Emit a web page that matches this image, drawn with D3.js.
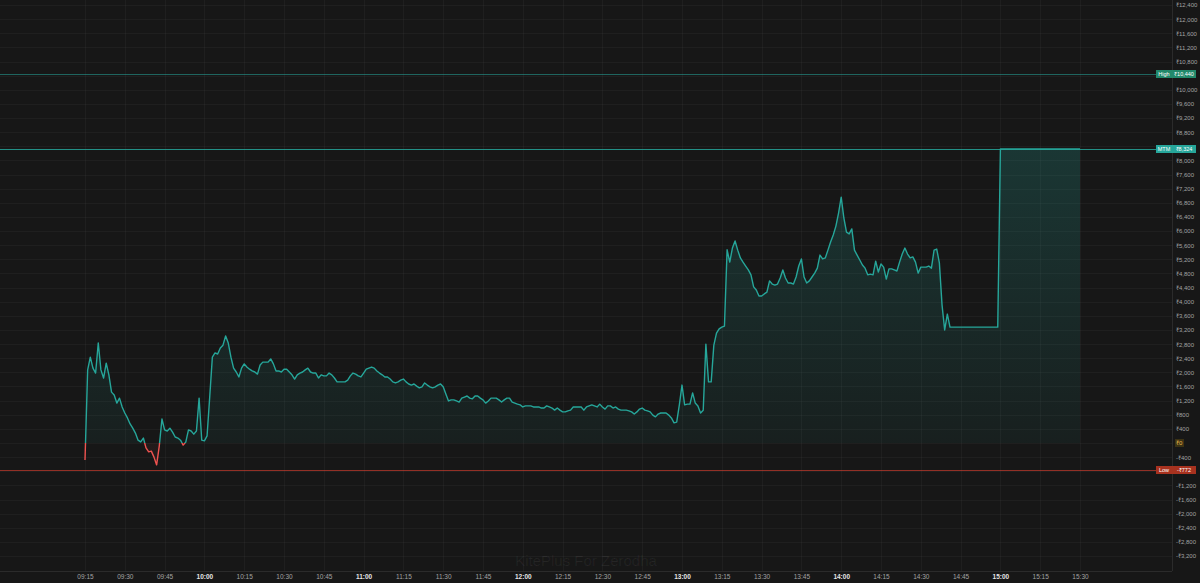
<!DOCTYPE html>
<html>
<head>
<meta charset="utf-8">
<script src="https://cdn.jsdelivr.net/npm/d3@7"></script>
<style>
  html, body { margin: 0; padding: 0; background: #171717; }
  svg { display: block; }
  text { font-family: "Liberation Sans", Arial, sans-serif; }
</style>
</head>
<body>
<svg id="chart" width="1200" height="583"></svg>
<script>
// MTM, one value per minute starting 09:15
var minuteValues = [
  -480, 2070, 2430, 2120, 1980, 2830, 2070, 1840, 2260, 1930,
  1440, 1360, 1130, 1270, 1020, 850, 710, 540, 420, 280,
  80, 30, 140, -140, -250, -230, -400, -620, -80, 680,
  370, 340, 420, 310, 170, 140, 80, -60, 30, 370,
  340, 250, 340, 1270, 80, 60, 200, 1300, 2430, 2550,
  2520, 2690, 2770, 3030, 2830, 2430, 2120, 2010, 1870, 2120,
  2240, 2150, 2090, 2040, 2010, 1950, 2210, 2290, 2290, 2290,
  2380, 2240, 2040, 2040, 2010, 2090, 2090, 2010, 1930, 1810,
  1930, 1980, 2010, 2070, 2120, 2010, 1980, 1980, 1840, 1930,
  1900, 1900, 1980, 1930, 1840, 1730, 1730, 1730, 1730, 1780,
  1900, 1980, 1950, 1900, 1870, 1980, 2090, 2120, 2150, 2120,
  2040, 1980, 1930, 1870, 1870, 1810, 1730, 1700, 1730, 1780,
  1810, 1730, 1670, 1640, 1670, 1610, 1560, 1590, 1700, 1640,
  1590, 1560, 1590, 1640, 1670, 1590, 1390, 1190, 1220, 1220,
  1190, 1160, 1270, 1300, 1330, 1270, 1250, 1330, 1330, 1270,
  1220, 1130, 1190, 1270, 1270, 1270, 1220, 1160, 1220, 1270,
  1270, 1160, 1130, 1100, 1080, 1020, 1050, 1050, 1050, 1020,
  1020, 1020, 990, 990, 1050, 1020, 990, 930, 990, 930,
  880, 880, 910, 930, 1020, 1020, 1020, 1020, 930, 1020,
  1050, 1080, 1050, 1020, 1100, 1020, 960, 1050, 1050, 990,
  1020, 960, 930, 930, 930, 910, 880, 820, 880, 960,
  990, 930, 910, 880, 790, 740, 820, 850, 850, 850,
  790, 710, 570, 590, 1080, 1640, 1080, 1100, 1100, 1420,
  1130, 1050, 850, 930, 2800, 1730, 1730, 2770, 3110, 3230,
  3280, 3310, 5470, 5120, 5520, 5720, 5460, 5240, 5120, 5010,
  4900, 4760, 4420, 4330, 4160, 4160, 4220, 4270, 4590, 4500,
  4470, 4500, 4670, 4900, 4670, 4530, 4530, 4500, 4700, 5010,
  5210, 4700, 4530, 4590, 4700, 4810, 4950, 5320, 5210, 5240,
  5460, 5690, 5890, 6140, 6510, 6960, 6370, 5970, 5920, 6060,
  5460, 5320, 5180, 5040, 4950, 4760, 4780, 4760, 5150, 4840,
  5070, 4980, 4640, 4930, 4930, 4900, 4870, 5120, 5350, 5520,
  5350, 5240, 5270, 5120, 4810, 4980, 4980, 4980, 5010, 4950,
  5460, 5490, 5100, 3910, 3200, 3650, 3280
];
// sparse points after 14:41
var tailPoints = [['14:59', 3280], ['15:00', 8324], ['15:30', 8324]];

var timeLabels = ['09:15', '09:30', '09:45', '10:00', '10:15', '10:30', '10:45', '11:00',
  '11:15', '11:30', '11:45', '12:00', '12:15', '12:30', '12:45', '13:00', '13:15',
  '13:30', '13:45', '14:00', '14:15', '14:30', '14:45', '15:00', '15:15', '15:30'];
var priceTicks = d3.range(-3200, 12401, 400);

var priceLines = [
  { title: 'High', value: 10440, line: 'rgba(38,166,154,0.55)', box: '#22896b' },
  { title: 'MTM', value: 8324, line: 'rgba(38,166,154,0.85)', box: '#26a69a' },
  { title: 'Low', value: -772, line: 'rgba(200,60,45,0.7)', box: '#a8321f' }
];

var parseTime = d3.timeParse('%H:%M');
var data = minuteValues.map(function (v, i) {
  return { t: d3.timeMinute.offset(parseTime('09:15'), i), v: v };
}).concat(tailPoints.map(function (p) { return { t: parseTime(p[0]), v: p[1] }; }));

var svg = d3.select('#chart'),
  width = 1200, height = 583,
  paneW = 1172, // ширина области графика
  paneH = 571;  // высота области графика

var x = d3.scaleTime().domain([parseTime('09:15'), parseTime('15:30')]).range([85, 1080]);
var y = d3.scaleLinear().domain([0, 12400]).range([443, 5]);
var y0 = y(0);

svg.append('rect').attr('width', width).attr('height', height).attr('fill', '#171717');

var defs = svg.append('defs');
var gTop = defs.append('linearGradient').attr('id', 'gTop')
  .attr('gradientUnits', 'userSpaceOnUse').attr('x1', 0).attr('x2', 0).attr('y1', 0).attr('y2', y0);
gTop.append('stop').attr('offset', 0).attr('stop-color', 'rgba(38,166,154,0.30)');
gTop.append('stop').attr('offset', 1).attr('stop-color', 'rgba(38,166,154,0.06)');
var gBot = defs.append('linearGradient').attr('id', 'gBot')
  .attr('gradientUnits', 'userSpaceOnUse').attr('x1', 0).attr('x2', 0).attr('y1', y0).attr('y2', paneH);
gBot.append('stop').attr('offset', 0).attr('stop-color', 'rgba(239,83,80,0.05)');
gBot.append('stop').attr('offset', 1).attr('stop-color', 'rgba(239,83,80,0.28)');
defs.append('clipPath').attr('id', 'clipTop').append('rect')
  .attr('x', 0).attr('y', 0).attr('width', paneW).attr('height', y0);
defs.append('clipPath').attr('id', 'clipBot').append('rect')
  .attr('x', 0).attr('y', y0).attr('width', paneW).attr('height', paneH - y0);

// сетка
var grid = svg.append('g').attr('stroke', 'rgba(255,255,255,0.035)').attr('stroke-width', 1);
grid.selectAll('.h').data(priceTicks).enter().append('line')
  .attr('x1', 0).attr('x2', paneW)
  .attr('y1', function (d) { return Math.round(y(d)) + 0.5; })
  .attr('y2', function (d) { return Math.round(y(d)) + 0.5; });
grid.selectAll('.v').data(timeLabels).enter().append('line')
  .attr('y1', 0).attr('y2', paneH)
  .attr('x1', function (d) { return Math.round(x(parseTime(d))) + 0.5; })
  .attr('x2', function (d) { return Math.round(x(parseTime(d))) + 0.5; });

// водяной знак
svg.append('text').attr('x', paneW / 2).attr('y', 566).attr('text-anchor', 'middle')
  .attr('font-size', 15).attr('fill', 'rgba(255,255,255,0.06)').text('KitePlus For Zerodha');

var area = d3.area().x(function (d) { return x(d.t); }).y0(y0).y1(function (d) { return y(d.v); });
var line = d3.line().x(function (d) { return x(d.t); }).y(function (d) { return y(d.v); });

svg.append('path').datum(data).attr('d', area).attr('fill', 'url(#gTop)').attr('clip-path', 'url(#clipTop)');
svg.append('path').datum(data).attr('d', area).attr('fill', 'url(#gBot)').attr('clip-path', 'url(#clipBot)');

// ценовые линии
priceLines.forEach(function (p) {
  var py = Math.round(y(p.value)) + 0.5;
  svg.append('line').attr('x1', 0).attr('x2', paneW).attr('y1', py).attr('y2', py)
    .attr('stroke', p.line).attr('stroke-width', 1);
});

svg.append('path').datum(data).attr('d', line).attr('fill', 'none')
  .attr('stroke', '#26a69a').attr('stroke-width', 1.4).attr('stroke-linejoin', 'round')
  .attr('clip-path', 'url(#clipTop)');
svg.append('path').datum(data).attr('d', line).attr('fill', 'none')
  .attr('stroke', '#ef5350').attr('stroke-width', 1.4).attr('stroke-linejoin', 'round')
  .attr('clip-path', 'url(#clipBot)');

// оси
var fmt = d3.format(',');
function rupee(d) { return (d < 0 ? '-' : '') + '\u20B9' + fmt(Math.abs(d)); }

// подписи, которые закрыты метками ценовых линий, не выводим
var axisTicks = priceTicks.filter(function (d) {
  if (d === 0) return false;
  return priceLines.every(function (p) { return Math.abs(y(d) - y(p.value)) > 5; });
});

var yAxis = svg.append('g').attr('transform', 'translate(' + paneW + ',0)')
  .call(d3.axisRight(y).tickValues(axisTicks)
    .tickSize(0).tickPadding(4).tickFormat(rupee));
yAxis.select('.domain').remove();
yAxis.selectAll('text').attr('font-size', 6).attr('fill', '#a3a3a3');

var xAxis = svg.append('g').attr('transform', 'translate(0,' + paneH + ')')
  .call(d3.axisBottom(x).tickValues(timeLabels.map(parseTime))
    .tickSize(0).tickPadding(3).tickFormat(d3.timeFormat('%H:%M')));
xAxis.select('.domain').remove();
xAxis.selectAll('text').attr('font-size', 6.5)
  .attr('fill', function (d) { return d.getMinutes() === 0 ? '#e6e6e6' : '#a3a3a3'; })
  .attr('font-weight', function (d) { return d.getMinutes() === 0 ? 'bold' : 'normal'; });

svg.append('line').attr('x1', paneW + 0.5).attr('x2', paneW + 0.5).attr('y1', 0).attr('y2', paneH)
  .attr('stroke', '#2b2b2b');
svg.append('line').attr('x1', 0).attr('x2', paneW).attr('y1', paneH + 0.5).attr('y2', paneH + 0.5)
  .attr('stroke', '#2b2b2b');

// метки ценовых линий
priceLines.forEach(function (p) {
  var py = Math.round(y(p.value));
  var g = svg.append('g');
  g.append('rect').attr('x', 1156).attr('y', py - 4).attr('width', 16).attr('height', 8).attr('fill', p.box);
  g.append('rect').attr('x', 1172).attr('y', py - 4).attr('width', 24).attr('height', 8).attr('fill', p.box);
  g.append('text').attr('x', 1164).attr('y', py + 2.2).attr('text-anchor', 'middle')
    .attr('font-size', 5.5).attr('fill', '#ffffff').text(p.title);
  g.append('text').attr('x', 1184).attr('y', py + 2.2).attr('text-anchor', 'middle')
    .attr('font-size', 5.5).attr('fill', '#ffffff').text(rupee(p.value));
});

// метка нуля
svg.append('rect').attr('x', 1175).attr('y', y0 - 4).attr('width', 9).attr('height', 8).attr('fill', '#3b3214');
svg.append('text').attr('x', 1176).attr('y', y0 + 2.2).attr('font-size', 6)
  .attr('fill', '#e8b84a').text(rupee(0));
</script>
</body>
</html>
